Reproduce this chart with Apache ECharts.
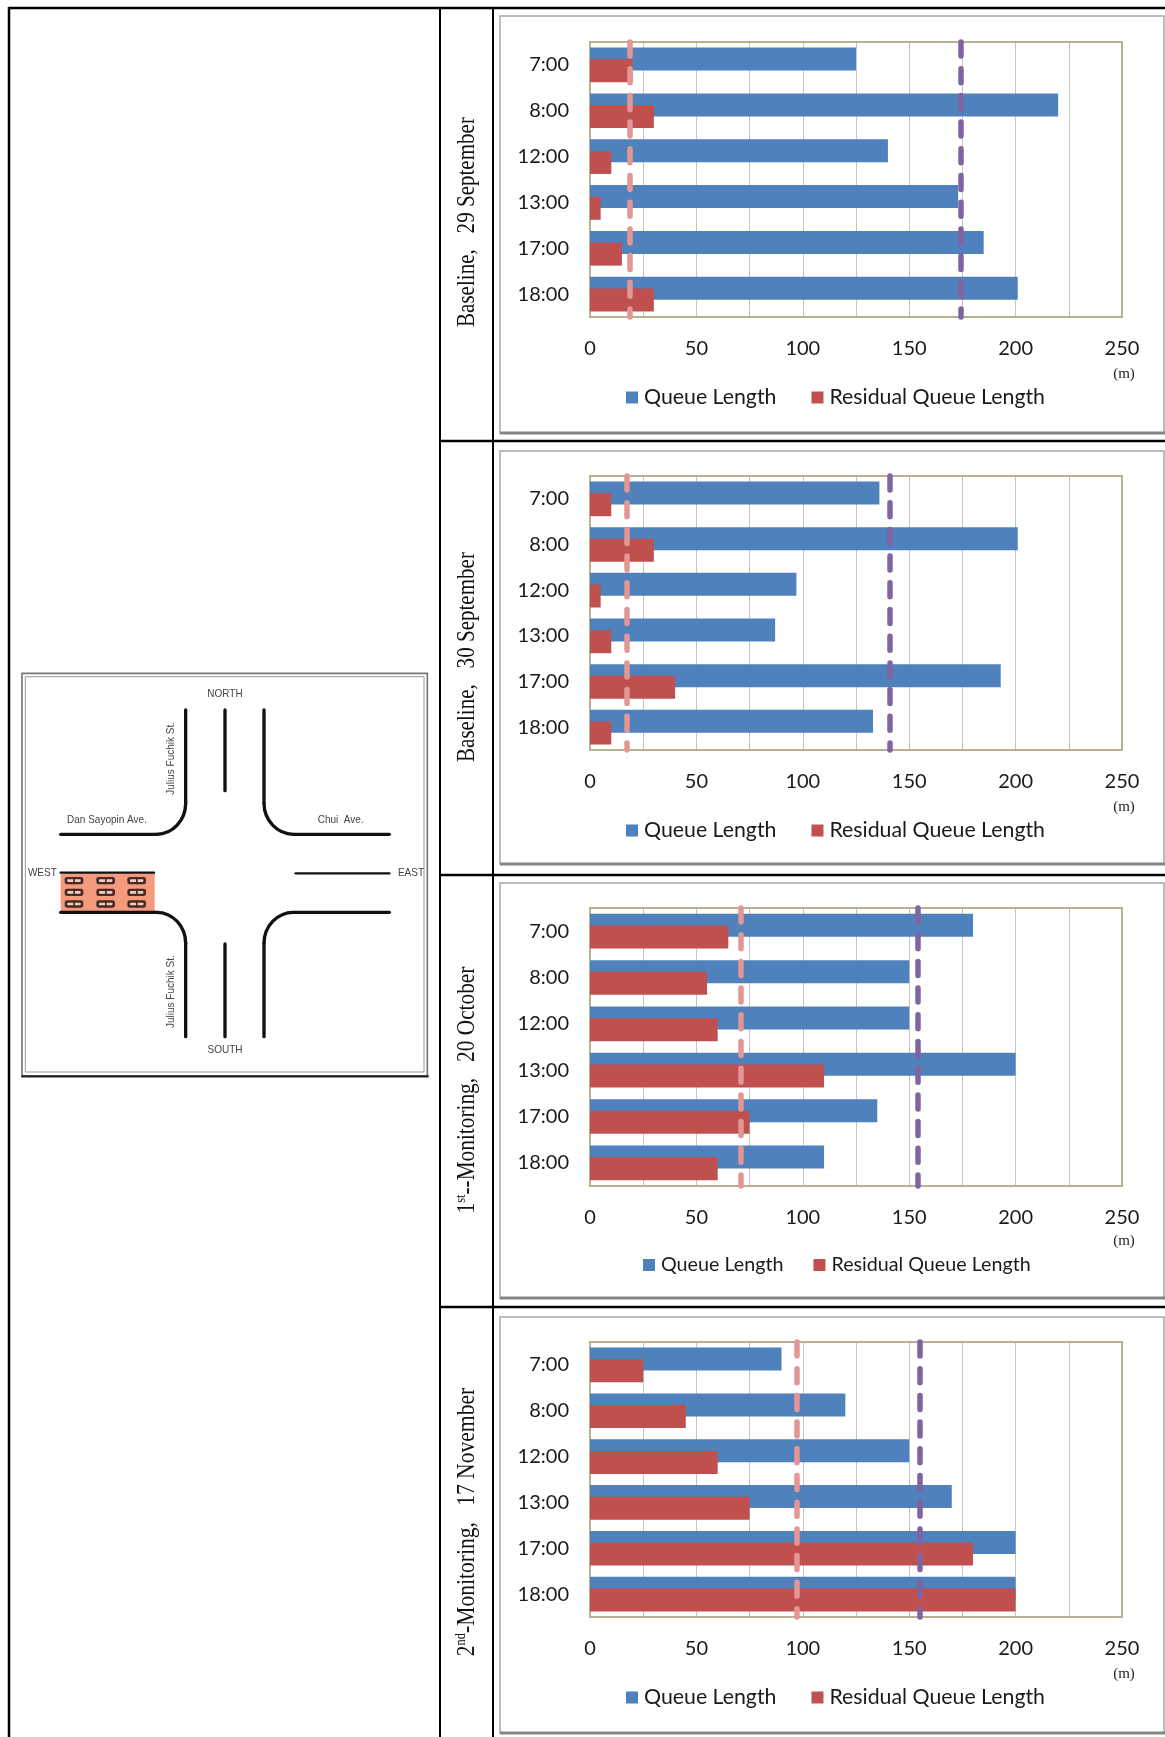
<!DOCTYPE html>
<html>
<head>
<meta charset="utf-8">
<style>html,body{margin:0;padding:0;background:#fff}#main{width:1165px;height:1737px}</style>
<script src="https://cdn.jsdelivr.net/npm/echarts@6/dist/echarts.min.js"></script>
</head>
<body>
<div id="main"></div>
<script>
// 横轴刻度、时段
var hours = ['7:00', '8:00', '12:00', '13:00', '17:00', '18:00'];
var axisMax = 250;
var axisStep = 25;
var labelStep = 50;

var queueSep29 = [125, 220, 140, 173, 185, 201];
var residualSep29 = [20, 30, 10, 5, 15, 30];
var queueSep30 = [136, 201, 97, 87, 193, 133];
var residualSep30 = [10, 30, 5, 10, 40, 10];
var queueOct20 = [180, 150, 150, 200, 135, 110];
var residualOct20 = [65, 55, 60, 110, 75, 60];
var queueNov17 = [90, 120, 150, 170, 200, 200];
var residualNov17 = [25, 45, 60, 75, 180, 200];

// 虚线位置
var queueLines = [174, 141, 154, 155];
var residualLines = [18.7, 17.5, 71, 97];

var queueSets = [queueSep29, queueSep30, queueOct20, queueNov17];
var residualSets = [residualSep29, residualSep30, residualOct20, residualNov17];

var queueName = 'Queue Length';
var residualName = 'Residual Queue Length';

var BLUE = '#4f81bd', RED = '#c0504d', PURPLE = '#8064a2', PINK = '#e39794';
var SANS = 'Lato', SERIF = '"Liberation Serif"';

// 每个面板的位置
var panels = [
    {top: 16, bottom: 433, plotTop: 42, plotBottom: 317, legendLeft: 626, legendY: 400, unitY: 374, size: 21.3, gap: 35},
    {top: 451, bottom: 864, plotTop: 476, plotBottom: 750, legendLeft: 626, legendY: 833, unitY: 807, size: 21.3, gap: 35},
    {top: 883, bottom: 1298, plotTop: 908, plotBottom: 1186, legendLeft: 643, legendY: 1268, unitY: 1241, size: 19.7, gap: 30},
    {top: 1317, bottom: 1733, plotTop: 1342, plotBottom: 1617, legendLeft: 626, legendY: 1700, unitY: 1674, size: 21.3, gap: 35}
];
var PLOT_LEFT = 590, PLOT_RIGHT = 1122;

function dashLine(value, color) {
    return {
        silent: true,
        symbol: 'none',
        z: 6,
        label: {show: false},
        emphasis: {disabled: true},
        lineStyle: {color: color, width: 5.5, type: [14, 12.7], cap: 'round', opacity: 1},
        data: [{xAxis: value}]
    };
}

var grids = [], xAxes = [], yAxes = [], series = [], legends = [];
panels.forEach(function (p, i) {
    grids.push({
        left: PLOT_LEFT, width: PLOT_RIGHT - PLOT_LEFT,
        top: p.plotTop, height: p.plotBottom - p.plotTop, z: 1,
        show: true, borderColor: '#b8b191', borderWidth: 2, backgroundColor: 'transparent'
    });
    xAxes.push({
        type: 'value', gridIndex: i, min: 0, max: axisMax, interval: axisStep,
        axisLine: {show: false}, axisTick: {show: false},
        splitLine: {show: true, lineStyle: {color: '#c4c4c4', width: 1}},
        axisLabel: {
            margin: 22, fontFamily: SANS, fontSize: 20, color: '#1a1a1a',
            formatter: function (v) { return v % labelStep === 0 ? String(v) : ''; }
        }
    });
    yAxes.push({
        type: 'category', gridIndex: i, data: hours, inverse: true,
        axisLine: {show: false}, axisTick: {show: false},
        axisLabel: {margin: 21, fontFamily: SANS, fontSize: 20, color: '#1a1a1a', padding: [4, 0, 0, 0]}
    });
    series.push({
        type: 'bar', name: queueName, xAxisIndex: i, yAxisIndex: i, data: queueSets[i],
        barWidth: 23, barGap: '-49%', itemStyle: {color: BLUE},
        markLine: dashLine(queueLines[i], PURPLE)
    });
    series.push({
        type: 'bar', name: residualName, xAxisIndex: i, yAxisIndex: i, data: residualSets[i],
        barWidth: 23, barGap: '-49%', itemStyle: {color: RED},
        markLine: dashLine(residualLines[i], PINK)
    });
    legends.push({
        data: [queueName, residualName], left: p.legendLeft, top: p.legendY - 13, padding: 0,
        icon: 'rect', itemWidth: 12, itemHeight: 12, itemGap: p.gap, selectedMode: false,
        textStyle: {fontFamily: SANS, fontSize: p.size, color: '#1a1a1a', padding: [0, 0, 0, 1]}
    });
});

// 表格线、面板框
var g = [];
function rule(x1, y1, x2, y2, w, color) {
    g.push({type: 'line', z: 1, shape: {x1: x1, y1: y1, x2: x2, y2: y2}, style: {stroke: color || '#000', lineWidth: w}});
}
rule(9, 8, 1165, 8, 2.5);
rule(9, 7, 9, 1737, 2.5);
rule(440, 8, 440, 1737, 2);
rule(493, 8, 493, 1737, 2);
rule(440, 441, 1165, 441, 2.5);
rule(440, 875, 1165, 875, 2.5);
rule(440, 1307, 1165, 1307, 2.5);

panels.forEach(function (p) {
    g.push({
        type: 'rect', z: 0, shape: {x: 500, y: p.top, width: 664, height: p.bottom - p.top},
        style: {fill: '#fff', stroke: '#a8a8a8', lineWidth: 1.5}
    });
    rule(500, p.bottom, 1165, p.bottom, 3, '#858585');
    g.push({
        type: 'text', z: 5, style: {
            text: '(m)', x: 1124, y: p.unitY, align: 'center', verticalAlign: 'middle',
            font: '15px ' + SERIF, fill: '#222'
        }
    });
});

// 竖排的行标题
function sideTitle(y, text, sx) {
    g.push({
        type: 'text', z: 5, x: 467, y: y, rotation: Math.PI / 2, scaleX: sx,
        style: {
            text: text, align: 'center', verticalAlign: 'middle',
            font: '26px ' + SERIF, fill: '#111',
            rich: {sup: {font: '15px ' + SERIF, fill: '#111', verticalAlign: 'top', lineHeight: 26}}
        }
    });
}
sideTitle(222, 'Baseline,   29 September', 0.81);
sideTitle(657, 'Baseline,   30 September', 0.81);
sideTitle(1090, '1{sup|st}--Monitoring,   20 October', 0.82);
sideTitle(1522, '2{sup|nd}-Monitoring,   17 November', 0.83);

// 路口示意图，用放大图的坐标画，整组缩到三分之一
var road = {stroke: '#111', lineWidth: 10, fill: null, lineCap: 'round'};
var thinRoad = {stroke: '#111', lineWidth: 7, fill: null, lineCap: 'round'};
var kids = [
    {type: 'rect', shape: {x: 36, y: 40, width: 1216, height: 1208}, style: {fill: '#fff', stroke: '#777', lineWidth: 5}},
    {type: 'rect', shape: {x: 46, y: 50, width: 1196, height: 1186}, style: {fill: null, stroke: '#999', lineWidth: 3}},
    {type: 'line', shape: {x1: 34, y1: 1249, x2: 1256, y2: 1249}, style: {stroke: '#222', lineWidth: 7}},
    {type: 'rect', shape: {x: 152, y: 640, width: 282, height: 115}, style: {fill: '#f59a7c'}}
];
function straight(pts, st) { kids.push({type: 'polyline', shape: {points: pts}, style: st || road}); }
function curve(x1, y1, c1x, c1y, c2x, c2y, x2, y2) {
    kids.push({type: 'bezierCurve', shape: {x1: x1, y1: y1, cpx1: c1x, cpy1: c1y, cpx2: c2x, cpy2: c2y, x2: x2, y2: y2}, style: road});
}
straight([[527, 150], [527, 430]]); curve(527, 430, 527, 481, 488, 523, 440, 523); straight([[440, 523], [152, 523]]);
straight([[762, 150], [762, 430]]); curve(762, 430, 762, 481, 802, 523, 850, 523); straight([[850, 523], [1138, 523]]);
straight([[645, 150], [645, 392]]);
straight([[645, 852], [645, 1130]]);
straight([[152, 757], [440, 757]]); curve(440, 757, 488, 757, 527, 799, 527, 850); straight([[527, 850], [527, 1130]]);
straight([[1138, 757], [850, 757]]); curve(850, 757, 802, 757, 762, 799, 762, 850); straight([[762, 850], [762, 1130]]);
straight([[152, 638], [432, 638]], thinRoad);
straight([[857, 640], [1138, 640]], thinRoad);
[662, 697, 732].forEach(function (cy) {
    [192, 287, 380].forEach(function (cx) {
        kids.push({type: 'rect', shape: {x: cx - 28, y: cy - 11, width: 56, height: 22, r: 7}, style: {fill: '#4a2a22'}});
        kids.push({type: 'rect', shape: {x: cx - 20, y: cy - 4, width: 40, height: 8, r: 2}, style: {fill: '#e9cfc6'}});
        kids.push({type: 'rect', shape: {x: cx - 2, y: cy - 11, width: 5, height: 22}, style: {fill: '#4a2a22'}});
    });
});
function mapText(x, y, text, rot) {
    kids.push({
        type: 'text', x: x, y: y, rotation: rot || 0,
        style: {text: text, align: 'center', verticalAlign: 'middle', font: '30px "Liberation Sans"', fill: '#444'}
    });
}
mapText(645, 104, 'NORTH');
mapText(645, 1170, 'SOUTH');
mapText(97, 641, 'WEST');
mapText(1203, 640, 'EAST');
mapText(291, 480, 'Dan Sayopin Ave.');
mapText(992, 480, 'Chui  Ave.');
mapText(483, 295, 'Julius Fuchik St.', Math.PI / 2);
mapText(483, 995, 'Julius Fuchik St.', Math.PI / 2);
g.push({type: 'group', x: 10, y: 660, scaleX: 1 / 3, scaleY: 1 / 3, z: 3, children: kids});

var chart = echarts.init(document.getElementById('main'));
chart.setOption({
    animation: false,
    backgroundColor: '#fff',
    grid: grids,
    xAxis: xAxes,
    yAxis: yAxes,
    legend: legends,
    series: series,
    graphic: {elements: g}
});
</script>
</body>
</html>
